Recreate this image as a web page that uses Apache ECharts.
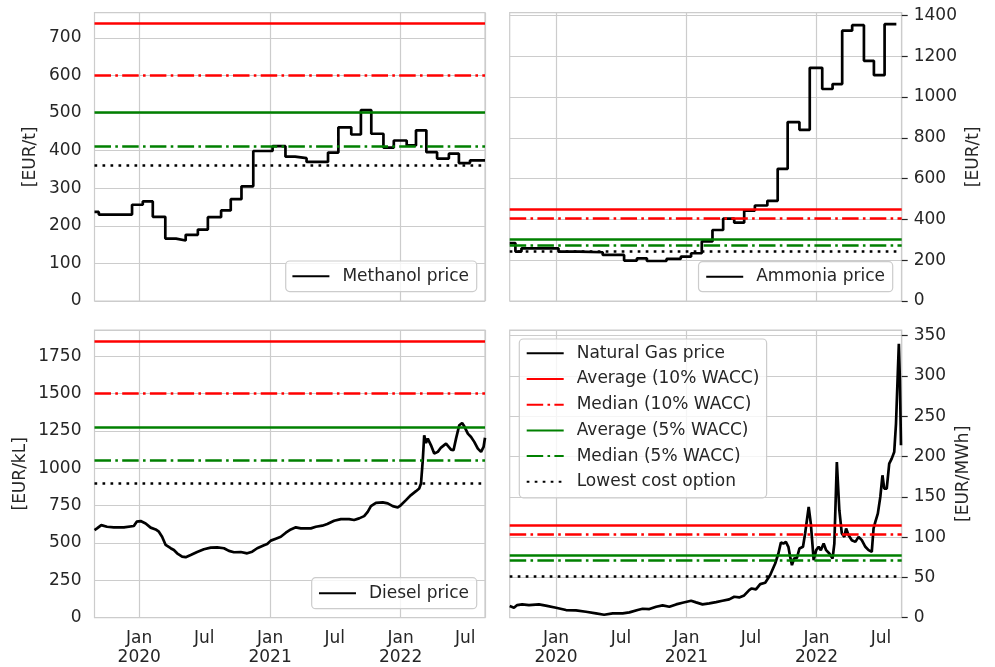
<!DOCTYPE html>
<html>
<head>
<meta charset="utf-8">
<script src="https://cdn.jsdelivr.net/npm/echarts@6/dist/echarts.min.js"></script>
<style>
  html, body { margin: 0; padding: 0; background: #fff; }
  #chart { width: 995px; height: 667px; }
</style>
</head>
<body>
<div id="chart"></div>
<script>
// price series, [date, value]
const methanol = [
  ['2019-08-29', 237], ['2019-09-10', 230], ['2019-12-12', 256], ['2020-01-11', 265],
  ['2020-02-08', 224], ['2020-03-14', 166], ['2020-04-13', 161], ['2020-05-10', 176],
  ['2020-06-13', 190], ['2020-07-11', 223], ['2020-08-17', 241], ['2020-09-13', 271],
  ['2020-10-13', 305], ['2020-11-15', 399], ['2021-01-08', 412], ['2021-02-13', 384],
  ['2021-03-12', 380], ['2021-04-13', 370], ['2021-06-12', 395], ['2021-07-11', 462],
  ['2021-08-16', 443], ['2021-09-12', 508], ['2021-10-11', 445], ['2021-11-14', 408],
  ['2021-12-13', 427], ['2022-01-18', 414], ['2022-02-13', 454], ['2022-03-14', 396],
  ['2022-04-13', 379], ['2022-05-16', 392], ['2022-06-13', 367], ['2022-07-14', 374],
  ['2022-08-25', 374]
];
const ammonia = [
  ['2019-08-24', 284], ['2019-09-09', 242], ['2019-09-26', 258], ['2020-01-08', 242],
  ['2020-03-06', 239], ['2020-05-11', 226], ['2020-07-10', 198], ['2020-08-15', 209],
  ['2020-09-12', 196], ['2020-11-06', 206], ['2020-12-16', 217], ['2021-01-14', 234],
  ['2021-02-13', 292], ['2021-03-15', 348], ['2021-04-14', 404], ['2021-05-15', 384],
  ['2021-06-12', 443], ['2021-07-12', 468], ['2021-08-16', 491], ['2021-09-14', 648],
  ['2021-10-12', 877], ['2021-11-14', 839], ['2021-12-13', 1143], ['2022-01-17', 1039],
  ['2022-02-15', 1063], ['2022-03-14', 1325], ['2022-04-11', 1352], ['2022-05-14', 1177],
  ['2022-06-11', 1107], ['2022-07-11', 1357], ['2022-08-13', 1357]
];
const diesel = [
  ['2019-08-29', 587], ['2019-09-05', 598], ['2019-09-17', 620], ['2019-10-03', 609],
  ['2019-10-22', 605], ['2019-11-19', 605], ['2019-12-17', 614], ['2019-12-25', 643],
  ['2020-01-05', 647], ['2020-01-19', 631], ['2020-02-02', 603], ['2020-02-16', 591],
  ['2020-02-25', 576], ['2020-03-05', 542], ['2020-03-15', 487], ['2020-03-29', 465],
  ['2020-04-07', 453], ['2020-04-16', 431], ['2020-04-30', 409], ['2020-05-10', 405],
  ['2020-05-24', 420], ['2020-06-11', 440], ['2020-06-30', 458], ['2020-07-19', 469],
  ['2020-08-06', 471], ['2020-08-25', 465], ['2020-09-08', 447], ['2020-09-22', 438],
  ['2020-10-11', 440], ['2020-10-29', 431], ['2020-11-12', 442], ['2020-11-26', 465],
  ['2020-12-15', 485], ['2020-12-24', 493], ['2021-01-03', 516], ['2021-01-17', 529],
  ['2021-01-31', 542], ['2021-02-14', 569], ['2021-02-28', 591], ['2021-03-14', 605],
  ['2021-03-28', 598], ['2021-04-25', 598], ['2021-05-09', 609], ['2021-05-27', 616],
  ['2021-06-10', 627], ['2021-06-29', 649], ['2021-07-18', 660], ['2021-08-10', 660],
  ['2021-08-24', 654], ['2021-09-07', 665], ['2021-09-21', 680], ['2021-10-01', 709],
  ['2021-10-10', 747], ['2021-10-24', 769], ['2021-11-12', 772], ['2021-11-26', 765],
  ['2021-12-10', 747], ['2021-12-24', 738], ['2022-01-02', 754], ['2022-01-16', 787],
  ['2022-01-30', 821], ['2022-02-13', 847], ['2022-02-22', 865], ['2022-02-27', 898],
  ['2022-03-04', 1054], ['2022-03-08', 1221], ['2022-03-13', 1170], ['2022-03-18', 1199],
  ['2022-03-22', 1206], ['2022-03-27', 1154], ['2022-04-05', 1099], ['2022-04-15', 1110],
  ['2022-04-24', 1139], ['2022-05-08', 1165], ['2022-05-22', 1125], ['2022-05-29', 1121],
  ['2022-06-05', 1199], ['2022-06-14', 1288], ['2022-06-22', 1303], ['2022-06-28', 1281],
  ['2022-07-08', 1232], ['2022-07-17', 1210], ['2022-07-26', 1177], ['2022-08-05', 1132],
  ['2022-08-14', 1110], ['2022-08-21', 1143], ['2022-08-25', 1205]
];
const gas = [
  ['2019-08-24', 14.5], ['2019-08-27', 14.5], ['2019-09-05', 12.4], ['2019-09-14', 15.7],
  ['2019-09-28', 16.5], ['2019-10-17', 15.7], ['2019-11-14', 16.5], ['2019-12-03', 14.9],
  ['2020-01-01', 12.4], ['2020-01-29', 9.5], ['2020-02-26', 9.1], ['2020-03-25', 7.4],
  ['2020-04-22', 5.4], ['2020-05-15', 3.7], ['2020-06-08', 5.4], ['2020-07-06', 5.4],
  ['2020-07-25', 6.6], ['2020-08-17', 9.5], ['2020-08-31', 11.1], ['2020-09-19', 10.7],
  ['2020-10-08', 13.6], ['2020-10-26', 15.3], ['2020-11-14', 13.6], ['2020-12-03', 16.5],
  ['2020-12-21', 18.6], ['2021-01-14', 21], ['2021-01-28', 19], ['2021-02-15', 16.5],
  ['2021-03-06', 17.8], ['2021-03-25', 19.4], ['2021-04-12', 21], ['2021-05-01', 22.7],
  ['2021-05-15', 26], ['2021-05-29', 25.2], ['2021-06-12', 27.7], ['2021-06-26', 34.3],
  ['2021-07-03', 36.3], ['2021-07-15', 35.1], ['2021-07-27', 41.7], ['2021-08-10', 43.4],
  ['2021-08-24', 52.9], ['2021-09-07', 67.3], ['2021-09-16', 79.7], ['2021-09-23', 93.3],
  ['2021-09-30', 92], ['2021-10-07', 94.1], ['2021-10-14', 88], ['2021-10-19', 75.6],
  ['2021-10-24', 65.2], ['2021-10-30', 73.5], ['2021-11-07', 74.3], ['2021-11-14', 85.9],
  ['2021-11-24', 88], ['2021-11-30', 104.5], ['2021-12-10', 137.5], ['2021-12-16', 116.8],
  ['2021-12-24', 71.4], ['2021-12-31', 83.8], ['2022-01-07', 88], ['2022-01-13', 83.8],
  ['2022-01-21', 92], ['2022-01-28', 83.8], ['2022-02-06', 79.7], ['2022-02-15', 73.5],
  ['2022-02-20', 92], ['2022-02-27', 193.2], ['2022-03-06', 133.4], ['2022-03-13', 104.5],
  ['2022-03-20', 100.3], ['2022-03-25', 110.7], ['2022-04-01', 102.4], ['2022-04-10', 96.2],
  ['2022-04-20', 94.1], ['2022-04-29', 100.3], ['2022-05-08', 96.2], ['2022-05-18', 88],
  ['2022-05-27', 83.8], ['2022-06-05', 81.8], ['2022-06-10', 110.7], ['2022-06-15', 118.9],
  ['2022-06-22', 129.2], ['2022-06-29', 149.9], ['2022-07-05', 176.7], ['2022-07-10', 160.2],
  ['2022-07-17', 160.2], ['2022-07-24', 191.2], ['2022-07-31', 197.4], ['2022-08-07', 205.6],
  ['2022-08-12', 240.7], ['2022-08-17', 302.7], ['2022-08-20', 339.8], ['2022-08-23', 294.4],
  ['2022-08-26', 213.9]
];

// reference levels: avg 10%, median 10%, avg 5%, median 5%, lowest cost
const levelNames = ['Average (10% WACC)', 'Median (10% WACC)', 'Average (5% WACC)', 'Median (5% WACC)', 'Lowest cost option'];
const methanolLevels = [739, 600, 503, 413, 361];
const ammoniaLevels = [451, 404, 304, 271, 245];
const dieselLevels = [1853, 1500, 1278, 1057, 899];
const gasLevels = [114.4, 103.2, 77.6, 71.4, 52];

const FONT = 'DejaVu Sans';
const TXT = '#262626';
const GRID = '#cccccc';
const FS = 17;
const LW = 2.7;
const dashDot = [16.5, 4.3, 2.6, 4.3];
const dotted = [2.7, 5.3];
const levelColors = ['#ff0000', '#ff0000', '#008000', '#008000', '#000000'];
const levelTypes = ['solid', dashDot, 'solid', dashDot, dotted];

const leftRange = ['2019-08-29', '2022-08-25'];
const rightRange = ['2019-08-24', '2022-08-28'];

const panels = [
  { name: 'Methanol price', data: methanol, step: 'end', levels: methanolLevels, max: 767, interval: 100,
    unit: '[EUR/t]', side: 'left', gap: 55, range: leftRange, bottom: false,
    grid: { left: 94.5, top: 12.7, width: 390.5, height: 288.3 } },
  { name: 'Ammonia price', data: ammonia, step: 'end', levels: ammoniaLevels, max: 1413, interval: 200,
    unit: '[EUR/t]', side: 'right', gap: 63, range: rightRange, bottom: false,
    grid: { left: 509.7, top: 12.7, width: 392, height: 288.3 } },
  { name: 'Diesel price', data: diesel, step: false, levels: dieselLevels, max: 1926, interval: 250,
    unit: '[EUR/kL]', side: 'left', gap: 65, range: leftRange, bottom: true,
    grid: { left: 94.5, top: 330, width: 390.5, height: 287.7 } },
  { name: 'Natural Gas price', data: gas, step: false, levels: gasLevels, max: 357, interval: 50,
    unit: '[EUR/MWh]', side: 'right', gap: 53, range: rightRange, bottom: true,
    grid: { left: 509.7, top: 330, width: 392, height: 287.7 } }
];

function dateLabel(val) {
  const d = new Date(val);
  if (d.getDate() !== 1) return '';
  const m = d.getMonth();
  if (m === 0) return 'Jan\n' + d.getFullYear();
  if (m === 6) return 'Jul';
  return '';
}

const grids = [], xAxes = [], yAxes = [], series = [];
panels.forEach((p, i) => {
  grids.push(Object.assign({ show: true, borderColor: GRID, borderWidth: 1.2, backgroundColor: '#fff' }, p.grid));
  xAxes.push({
    type: 'time', gridIndex: i,
    min: +echarts.time.parse(p.range[0]), max: +echarts.time.parse(p.range[1]),
    splitNumber: 6,
    axisLine: { show: false }, axisTick: { show: false },
    axisLabel: {
      show: p.bottom, formatter: dateLabel, fontFamily: FONT, fontSize: FS, color: TXT,
      lineHeight: 18.5, margin: 12, showMinLabel: false, showMaxLabel: false, hideOverlap: false
    },
    // only the January ticks get a grid line
    splitLine: { show: true, lineStyle: { color: ['rgba(0,0,0,0)', GRID], width: 1.2 } }
  });
  yAxes.push({
    type: 'value', gridIndex: i, position: p.side,
    min: 0, max: p.max, interval: p.interval,
    name: p.unit, nameLocation: 'middle', nameRotate: 90, nameGap: p.gap,
    nameTextStyle: { fontFamily: FONT, fontSize: FS, color: TXT },
    axisLine: { show: false },
    axisTick: { show: p.side === 'right', length: 6, lineStyle: { color: TXT, width: 1.2 } },
    axisLabel: {
      fontFamily: FONT, fontSize: FS, color: TXT, margin: p.side === 'right' ? 12 : 13,
      showMaxLabel: false, formatter: v => String(v)
    },
    splitLine: { show: true, lineStyle: { color: GRID, width: 1.2 } }
  });
  p.levels.forEach((v, k) => {
    series.push({
      type: 'line', name: levelNames[k], xAxisIndex: i, yAxisIndex: i, data: [],
      symbol: 'none', silent: true, z: 2,
      lineStyle: { color: levelColors[k], width: LW, type: levelTypes[k] },
      itemStyle: { color: levelColors[k] },
      markLine: {
        symbol: ['none', 'none'], silent: true, animation: false, label: { show: false },
        lineStyle: { color: levelColors[k], width: LW, type: levelTypes[k] },
        emphasis: { disabled: true },
        data: [{ yAxis: v }]
      }
    });
  });
  series.push({
    type: 'line', name: p.name, xAxisIndex: i, yAxisIndex: i, data: p.data,
    step: p.step, symbol: 'none', showSymbol: false, silent: true, z: 4,
    lineStyle: { color: '#000000', width: LW }, itemStyle: { color: '#000000' }
  });
});

function legend(names, pos, pad) {
  return Object.assign({
    orient: 'vertical', data: names, selectedMode: false,
    itemWidth: 37, itemHeight: 12, itemGap: 7.7, padding: pad,
    itemStyle: { opacity: 0 },
    backgroundColor: 'rgba(255,255,255,0.8)', borderColor: GRID, borderWidth: 1.2, borderRadius: 4,
    textStyle: { fontFamily: FONT, fontSize: FS, color: TXT, lineHeight: 18, padding: [0, 0, 0, 8] }
  }, pos);
}

const chart = echarts.init(document.getElementById('chart'), null, { renderer: 'canvas' });
chart.setOption({
  animation: false,
  backgroundColor: '#ffffff',
  grid: grids,
  xAxis: xAxes,
  yAxis: yAxes,
  legend: [
    legend(['Methanol price'], { right: 518.3, top: 261 }, [6.3, 7.7, 6.3, 5.7]),
    legend(['Ammonia price'], { right: 102.3, top: 261.7 }, [6, 7.7, 6, 6.7]),
    legend(['Diesel price'], { right: 518.3, top: 577.7 }, [6.5, 7.7, 6.5, 6.3]),
    legend(['Natural Gas price'].concat(levelNames), { left: 519.3, top: 339 }, [5.3, 7.3, 7, 6.4])
  ],
  series: series
});
</script>
</body>
</html>
